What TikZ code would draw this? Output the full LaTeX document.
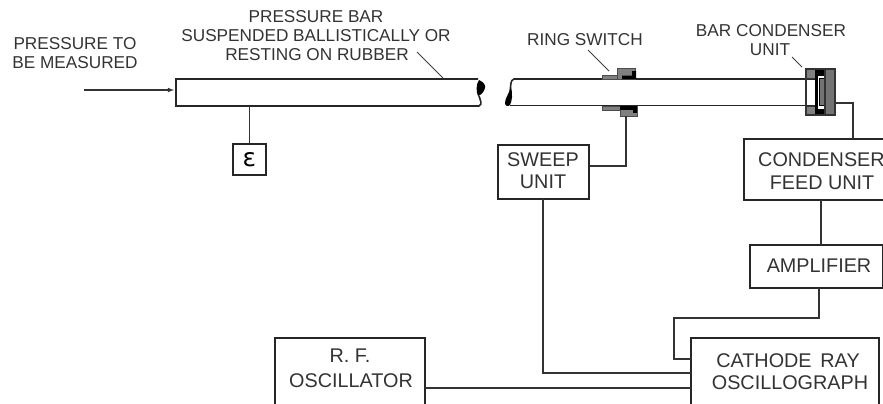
\documentclass[tikz,border=0pt]{standalone}
\usepackage{fontspec}
\setmainfont{Liberation Sans}
\newfontfamily\symfont{DejaVu Sans}
\definecolor{plategray}{gray}{0.45}
\begin{document}
\begin{tikzpicture}[x=1pt,y=-1pt,
  wire/.style={draw=black!80,line width=1.5pt,line join=miter},
  boxn/.style={draw=black!85,line width=1.6pt,fill=white},
  thin lead/.style={draw=black!75,line width=1pt},
  lab/.style={inner sep=0pt,font=\fontsize{17.2pt}{20pt}\selectfont,text=black!80},
  big/.style={lab,font=\fontsize{19.8pt}{22pt}\selectfont},
  gr/.style={fill=black!50,draw=black!70,line width=0.6pt}]
\useasboundingbox (0,0) rectangle (883,404);
\begin{scope}
\clip (0,0) rectangle (883,404);
% left bar
\draw[boxn] (478,79) -- (176,79) -- (176,106) -- (479,106) .. controls (483,104) and (480,100) .. (479,96);
\fill[black] (479,80) .. controls (484,82) and (486,86) .. (485,88) .. controls (484,92) and (481,95) .. (478,96) .. controls (476,92) and (476,84) .. (479,80) -- cycle;
% right bar
\draw[boxn,fill=none] (815,79) -- (514,79) .. controls (510,80) and (511,86) .. (510,92);
\draw[boxn,fill=none] (815,105.5) -- (510,105.5);
\fill[black] (511,87) .. controls (513,94) and (512,101) .. (510,105) .. controls (508,107) and (505,106) .. (505,103) .. controls (505,98) and (509,94) .. (511,87) -- cycle;
% ring switch
\draw[gr] (602,75) rectangle (618,79);
\draw[gr] (617.5,68.5) rectangle (635.5,79);
\fill[black] (622,79) -- (622,75.5) -- (632,75.5) -- (632,71) -- (636,71) -- (636,79) -- cycle;
\draw[gr] (602,106) rectangle (620,110);
\draw[gr] (620,106) rectangle (637,116);
\fill[black] (620,106) rectangle (637,109.5);
\fill[black] (633,106) rectangle (637,113);
% bar condenser
\fill[black!50] (806,69) rectangle (815,78);
\fill[black!50] (806,106) rectangle (815,115);
\fill[black] (815,69) rectangle (825,75.5);
\fill[black] (815,108.5) rectangle (825,115);
\fill[black] (815,75) rectangle (818,110);
\fill[black!55] (825,69) rectangle (835,115);
\fill[white] (818,75.5) rectangle (825,108.5);
\fill[plategray] (819,78.5) rectangle (825,105.5);
\draw[black,line width=1pt] (819,78.5) rectangle (824.5,105.5);
\draw[black!80,line width=1.2pt] (806,69) rectangle (835,115);
\draw[black!80,line width=1.2pt] (825,69) -- (825,115);
\draw[black!80,line width=1pt] (806,78) -- (815,78) (806,106) -- (815,106);
% boxes
\node[boxn,minimum width=33pt,minimum height=31pt,inner sep=0pt] (eps) at (249.5,159.5) {\symfont\fontsize{25pt}{25pt}\selectfont ε};
\node[boxn,minimum width=91pt,minimum height=54pt,inner sep=0pt] (sweep) at (543.5,172) {};
\node[boxn,minimum width=150pt,minimum height=61pt,inner sep=0pt] (cond) at (819,169.5) {};
\node[boxn,minimum width=133pt,minimum height=43pt,inner sep=0pt] (amp) at (816.5,266.5) {};
\node[boxn,minimum width=188pt,minimum height=80pt,inner sep=0pt] (cro) at (785,378) {};
\node[boxn,minimum width=150pt,minimum height=80pt,inner sep=0pt] (rf) at (350,378) {};
% text
\node[lab] (t1) at (75,44) {PRESSURE TO};
\node[lab] (t2) at (75,63) {BE MEASURED};
\node[lab] (t3) at (316,17) {PRESSURE BAR};
\node[lab] (t4) at (316,36) {SUSPENDED BALLISTICALLY OR};
\node[lab] (t5) at (317,55) {RESTING ON RUBBER};
\node[lab] (t6) at (585,40) {RING SWITCH};
\node[lab] (t7) at (771,31) {BAR CONDENSER};
\node[lab] (t8) at (770,50) {UNIT};
\node[big] (t9) at (543,160) {SWEEP};
\node[big] (t10) at (543,182) {UNIT};
\node[big,anchor=west] (t11) at (758,160) {CONDENSER};
\node[big] (t12) at (822,183) {FEED UNIT};
\node[big] (t13) at (819,266) {AMPLIFIER};
\node[big] (t14) at (788,361) {CATHODE\, RAY};
\node[big] (t15) at (790,383) {OSCILLOGRAPH};
\node[big] (t16) at (350,356) {R. F.};
\node[big] (t17) at (351,381) {OSCILLATOR};
% connectors
\coordinate (press) at (84,90);
\coordinate (barin) at (174,90);
\draw[wire,line width=1.1pt,-{latex}] (press) -- (barin);
\draw[wire] (249.5,106) -- (eps.north);
\draw[thin lead] (417,52) -- (443,78);
\draw[thin lead] (588,50) -- (609,71);
\draw[thin lead] (792,57) -- (802,67);
\draw[wire] (sweep.east |- 0,166) -- (626,166) -- (626,116);
\draw[wire] (835,103) -- (853,103) -- (853,139);
\draw[wire] (821,200) -- (821,245);
\draw[wire] (819,288) -- (819,318) -- (674,318) -- (674,359) -- (691,359);
\draw[wire] (543,199) -- (543,373) -- (691,373);
\draw[wire] (425,388) -- (691,388);
\end{scope}
\end{tikzpicture}
\end{document}
